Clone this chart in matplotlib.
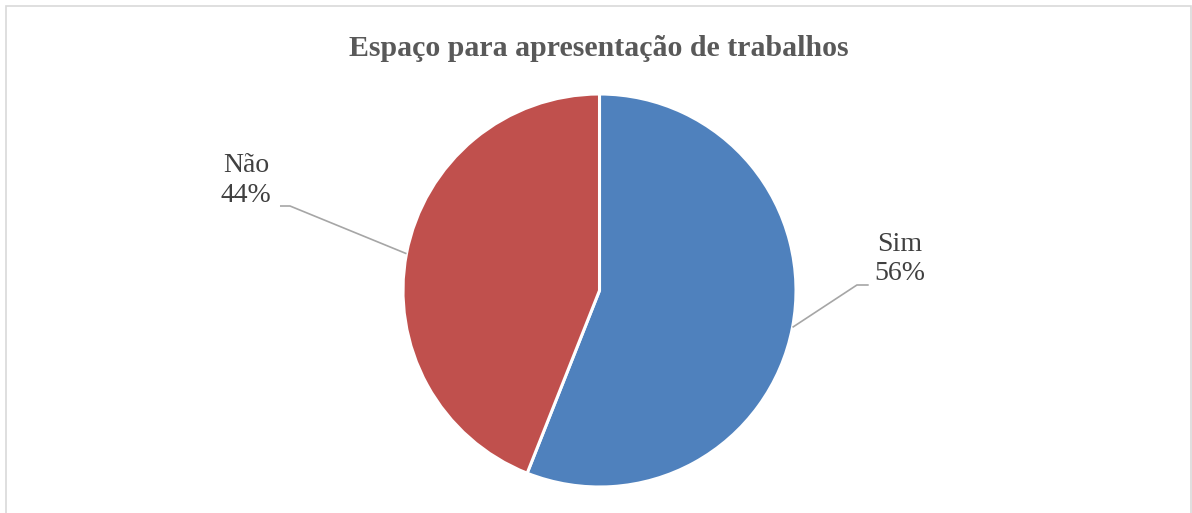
import numpy as np
import matplotlib.pyplot as plt
from matplotlib.patches import Rectangle

labels = ["Sim", "Não"]
values = [56, 44]
colors = ["#4F81BD", "#C0504D"]

plt.rcParams["font.family"] = ["Liberation Serif", "DejaVu Serif"]

W, H = 1192, 513
fig = plt.figure(figsize=(W / 100, H / 100), dpi=100)
ax = fig.add_axes([0, 0, 1, 1])

wedges, _ = ax.pie(values, colors=colors, startangle=90, counterclock=False,
                   radius=1, wedgeprops=dict(edgecolor="white", linewidth=2.2))

# pie centre and radius in pixels
cx, cy, r = 599.5, 290.5, 196.5
ax.set_aspect("auto")
ax.set_xlim(-cx / r, (W - cx) / r)
ax.set_ylim((cy - H) / r, cy / r)
ax.axis("off")

# label positions (text centre, elbow) in pie units
text_pos = [(1.53, 0.16), (-1.80, 0.56)]
elbow = [(1.37, 0.028), (-1.575, 0.43)]
elbow_end = [(1.31, 0.028), (-1.626, 0.43)]

for w, lab, v, tp, el, ee in zip(wedges, labels, values, text_pos, elbow, elbow_end):
    ang = np.deg2rad((w.theta1 + w.theta2) / 2)
    px, py = np.cos(ang), np.sin(ang)
    if px > 0:
        xs = [px, ee[0], el[0]]
        ys = [py, ee[1], el[1]]
    else:
        xs = [px, el[0], ee[0]]
        ys = [py, el[1], ee[1]]
    ax.plot(xs, ys, color="#A6A6A6", lw=1.2, solid_capstyle="butt")
    ax.text(tp[0], tp[1], f"{lab}\n{v}%", ha="center", va="center",
            fontsize=20, color="#404040", linespacing=1.25)

fig.text(599 / W, 1 - 48 / H, "Espaço para apresentação de trabalhos",
         ha="center", va="center", fontsize=21.5, fontweight="bold", color="#595959")

fig.patches.append(Rectangle((5.5 / W, -0.1), 1185 / W, 1.1 - 5.5 / H,
                             transform=fig.transFigure, fill=False,
                             edgecolor="#D9D9D9", lw=1.2))

fig.savefig("out.png", dpi=100)
